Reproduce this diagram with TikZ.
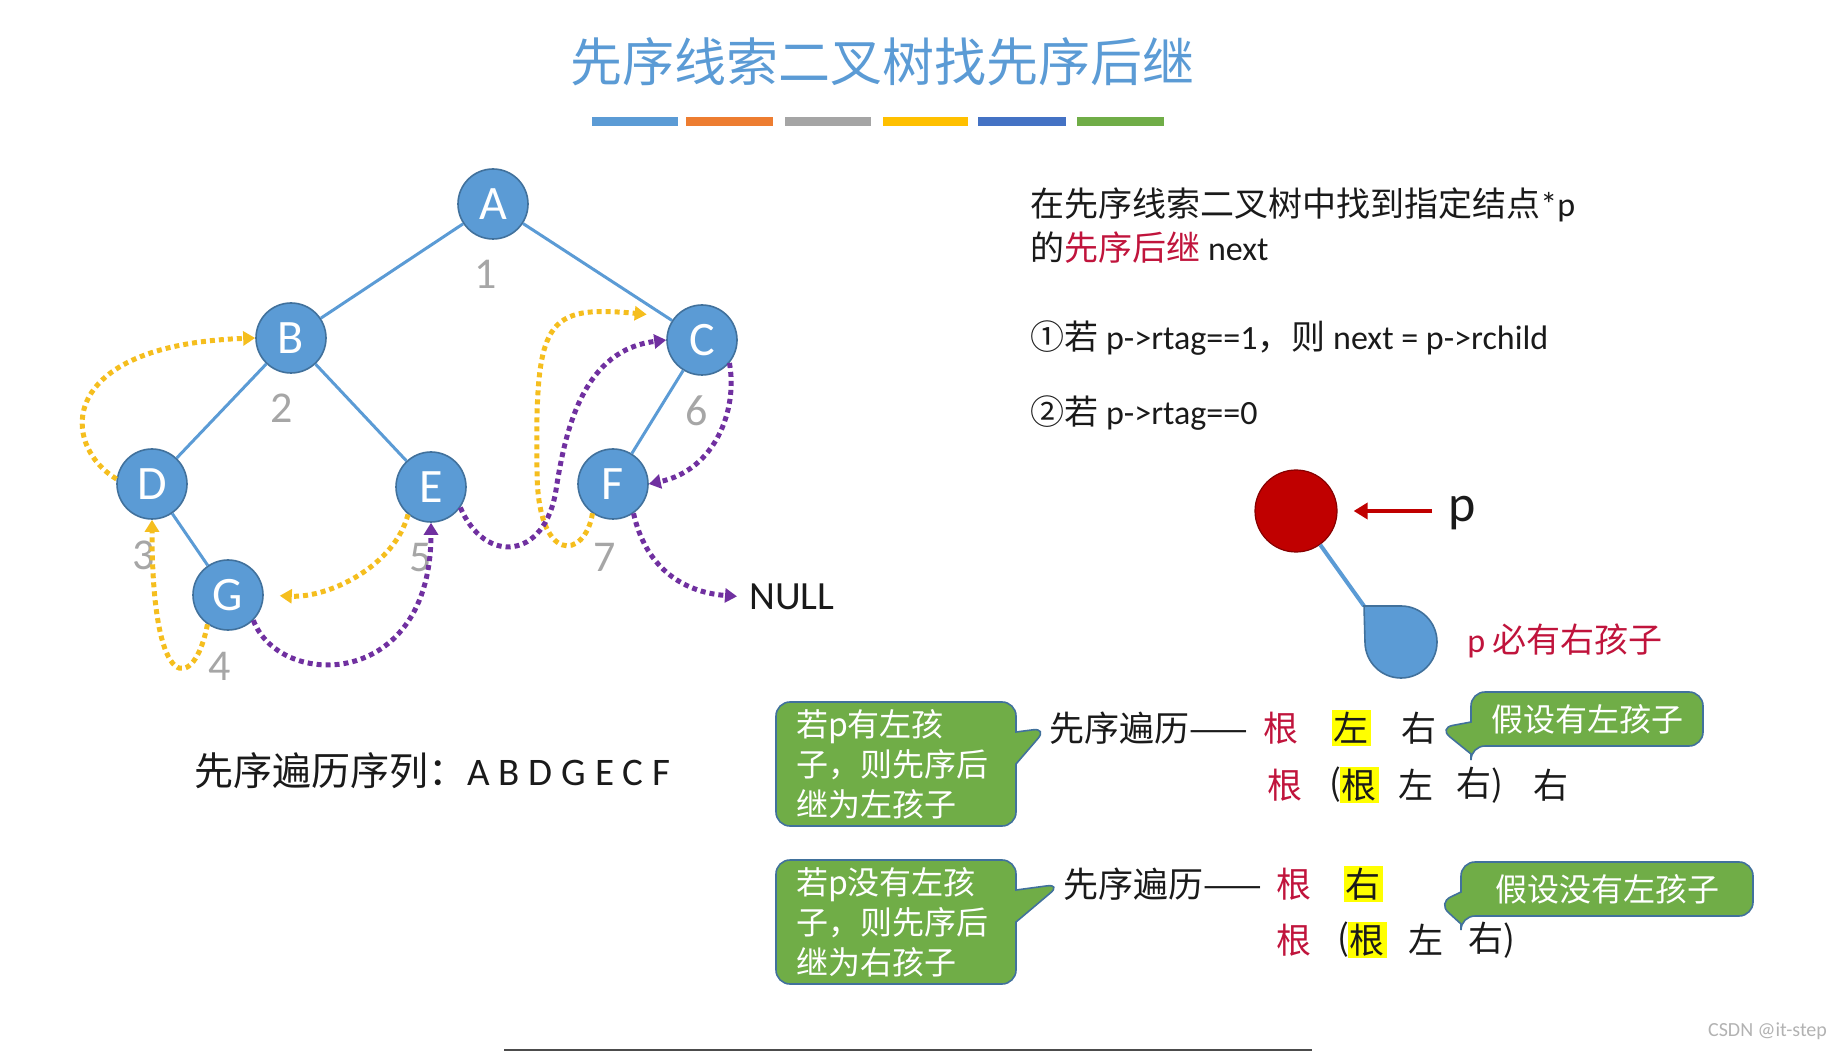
\documentclass[tikz,border=0pt]{standalone}
\usepackage{fontspec}
\setmainfont{Carlito}
\newfontfamily\cjk{Noto Sans CJK SC}
\usetikzlibrary{positioning,arrows.meta,calc,shapes.callouts}
\definecolor{nodeC}{HTML}{5B9BD5}
\definecolor{nodeEdgeC}{HTML}{41719C}
\definecolor{edgeC}{HTML}{5B9BD5}
\definecolor{titleC}{HTML}{5B9BD5}
\definecolor{yelC}{HTML}{F5BE1E}
\definecolor{purC}{HTML}{7030A0}
\definecolor{numC}{HTML}{A6A6A6}
\definecolor{redC}{HTML}{C00000}
\definecolor{keyC}{HTML}{C0143C}
\definecolor{hlC}{HTML}{FFFF00}
\definecolor{boxC}{HTML}{70AD47}
\definecolor{boxEdgeC}{HTML}{41719C}
\definecolor{darkC}{HTML}{1A1A1A}
\definecolor{barA}{HTML}{5B9BD5}
\definecolor{barB}{HTML}{ED7D31}
\definecolor{barC}{HTML}{A5A5A5}
\definecolor{barD}{HTML}{FFC000}
\definecolor{barE}{HTML}{4472C4}
\definecolor{barF}{HTML}{70AD47}

\newcommand{\sizept}[1]{\fontsize{#1}{#1}\selectfont}

\begin{document}
\begin{tikzpicture}[
  x=0.5pt, y=-0.5pt,
  >=Stealth,
  every node/.style={text=darkC},
  treenode/.style={circle, draw=nodeEdgeC, line width=0.8pt, fill=nodeC,
    minimum size=35pt, inner sep=0pt, text=white, font=\sizept{24}},
  treeedge/.style={edgeC, line width=1.5pt},
  ordnum/.style={text=numC, font=\sizept{22}, inner sep=0pt},
  thread/.style={line width=2.5pt, dash pattern=on 2.5pt off 2pt,
    -{Triangle[length=6pt,width=7pt]}},
  yelthread/.style={thread, yelC},
  purthread/.style={thread, purC},
  bodytext/.style={font=\sizept{17}, anchor=west, inner sep=0pt},
  rowtext/.style={font=\cjk\sizept{17.5}, inner sep=1pt},
  keyroot/.style={rowtext, text=keyC},
  hl/.style={rowtext, fill=hlC},
  callbox/.style={rectangle callout, fill=boxC, draw=boxEdgeC, line width=0.8pt,
    rounded corners=7pt, text=white, callout pointer width=16pt},
  sidebox/.style={callbox, font=\cjk\fontsize{16}{20}\selectfont, align=left,
    text width=100pt, inner xsep=10pt, minimum height=62pt},
  notebox/.style={callbox, font=\cjk\sizept{16}, minimum height=27pt},
  pointer/.style={-{Triangle[length=7pt,width=8pt]}, redC, line width=2pt},
]
\useasboundingbox (0,0) rectangle (1845,1052);

% ── Title ──
\node[font=\cjk\sizept{26}, text=titleC] (title) at (882,62) {先序线索二叉树找先序后继};
\fill[barA] (592,117) rectangle (678,126);
\fill[barB] (686,117) rectangle (773,126);
\fill[barC] (785,117) rectangle (871,126);
\fill[barD] (883,117) rectangle (968,126);
\fill[barE] (978,117) rectangle (1066,126);
\fill[barF] (1077,117) rectangle (1164,126);

% ── Tree ──
\node[treenode] (A) at (493,204) {A};
\node[treenode] (B) at (291,338) {B};
\node[treenode] (C) at (702,340) {C};
\node[treenode] (D) at (152,484) {D};
\node[treenode] (E) at (431,487) {E};
\node[treenode] (F) at (613,484) {F};
\node[treenode] (G) at (228,595) {G};

\draw[treeedge] (A) -- (B);
\draw[treeedge] (A) -- (C);
\draw[treeedge] (B) -- (D);
\draw[treeedge] (B) -- (E);
\draw[treeedge] (C) -- (F);
\draw[treeedge] (D) -- (G);

% ── Visit order ──
\node[ordnum] (n1) at (486,274) {1};
\node[ordnum] (n2) at (282,408) {2};
\node[ordnum] (n3) at (144,555) {3};
\node[ordnum] (n4) at (220,666) {4};
\node[ordnum] (n5) at (421,558) {5};
\node[ordnum] (n6) at (697,411) {6};
\node[ordnum] (n7) at (605,557) {7};

\node[font=\sizept{20}, anchor=west, inner sep=2pt] (nullnode) at (745,597) {NULL};

% ── Threads ──
\draw[yelthread] (D.172) .. controls (60,445) and (55,345) .. (B.west);
\draw[yelthread] (G.235) .. controls (195,690) and (152,700) .. (D.south);
\draw[yelthread, shorten >=8pt] (E.230) .. controls (395,565) and (330,598) .. (G.east);
\draw[yelthread, shorten >=14pt] (F.235) .. controls (585,560) and (537,565) .. (537,470)
    .. controls (535,320) and (545,305) .. (C.140);

\draw[purthread] (G.-45) .. controls (280,690) and (431,690) .. (E.south);
\draw[purthread] (E.-35) .. controls (485,565) and (545,560) .. (556,490)
    .. controls (566,425) and (585,350) .. (C.west);
\draw[purthread] (C.-40) .. controls (738,410) and (715,470) .. (F.east);
\draw[purthread, shorten >=4pt] (F.-55) .. controls (645,565) and (680,592) .. (nullnode.west);

% ── Preorder sequence ──
\node[font=\sizept{19.5}, anchor=west, inner sep=0pt] (preseq) at (194,771)
      {{\cjk 先序遍历序列：}A B D G E C F};

% ── Right side text ──
\node[bodytext] (intro1) at (1030,205) {{\cjk 在先序线索二叉树中找到指定结点}*p};
\node[bodytext] (intro2) at (1030,248) {{\cjk 的}{\cjk\color{keyC}先序后继} next};
\node[bodytext] (rule1) at (1030,338) {{\cjk ①若} p->rtag==1{\cjk ，则} next = p->rchild};
\node[bodytext] (rule2) at (1030,413) {{\cjk ②若} p->rtag==0};

% ── p and its right child ──
\node[circle, fill=redC, draw=redC!70!black, line width=0.6pt,
      minimum size=41pt, inner sep=0pt] (pnode) at (1296,511) {};
\node[font=\sizept{26}, inner sep=0pt, anchor=west] (plabel) at (1448,513) {p};
\draw[pointer, shorten <=8pt, shorten >=8pt] (pnode.east -| plabel.west) -- (pnode.east);
\coordinate (ptip) at (1364,606);
\draw[edgeC, line width=2pt] (pnode) -- (ptip);
\draw[fill=nodeC, draw=nodeEdgeC, line width=0.8pt]
    (ptip) -- (1401,606) arc[start angle=-90, end angle=180, radius=36] -- cycle;
\node[font=\sizept{17}, anchor=west, inner sep=0pt, text=keyC] (haschild) at (1467,641)
      {p {\cjk 必有右孩子}};

% ── Case: left child ──
\node[rowtext, anchor=west] (pre1) at (1047,728) {先序遍历——};
\node[keyroot] (root1) at (1281,728) {根};
\node[hl] (left1) at (1351,728) {左};
\node[rowtext] (right1) at (1419,728) {右};
\node[keyroot] (root2) at (1285,785) {根};
\node[rowtext] (par2) at (1335,785) {(};
\node[hl] (sub2) at (1359,785) {根};
\node[rowtext] (left2) at (1416,785) {左};
\node[rowtext] (right2) at (1480,785) {右)};
\node[rowtext] (last2) at (1551,785) {右};

\node[sidebox, callout absolute pointer={(pre1.west)}] (caseL) at (896,764)
      {若p有左孩\\子，则先序后\\继为左孩子};
\node[notebox, minimum width=116pt, callout absolute pointer={(right1.east)}] (noteL)
      at (1587,719) {假设有左孩子};

% ── Case: no left child ──
\node[rowtext, anchor=west] (pre3) at (1061,884) {先序遍历——};
\node[keyroot] (root3) at (1294,884) {根};
\node[hl] (right3) at (1363,884) {右};
\node[keyroot] (root4) at (1294,940) {根};
\node[rowtext] (par4) at (1343,940) {(};
\node[hl] (sub4) at (1367,940) {根};
\node[rowtext] (left4) at (1426,940) {左};
\node[rowtext] (right4) at (1492,940) {右)};

\node[sidebox, callout absolute pointer={(pre3.west)}] (caseR) at (896,922)
      {若p没有左孩\\子，则先序后\\继为右孩子};
\node[notebox, minimum width=146pt, callout absolute pointer={(1438,903)}] (noteR)
      at (1607,889) {假设没有左孩子};

% ── Footer ──
\node[font=\sizept{10}, text=gray!60, anchor=east] (csdn) at (1834,1031) {CSDN @it-step};
\draw[black!70, line width=1pt] (504,1050) -- (1312,1050);

\end{tikzpicture}
\end{document}
